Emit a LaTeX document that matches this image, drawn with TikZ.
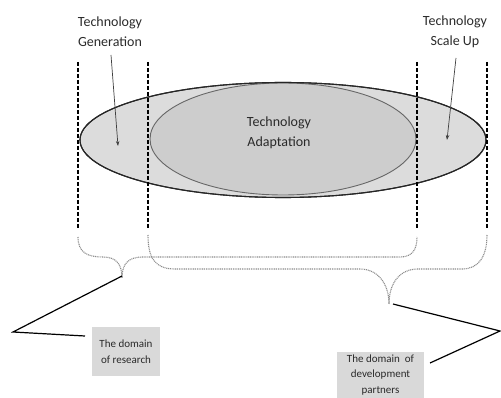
\documentclass[tikz,border=0pt]{standalone}
\usepackage{fontspec}
\setmainfont{Carlito}
\usetikzlibrary{shapes.geometric,arrows.meta}
\definecolor{outerfill}{HTML}{DCDCDC}
\definecolor{innerfill}{HTML}{CDCDCD}
\definecolor{boxfill}{HTML}{D9D9D9}
\definecolor{txt}{HTML}{2A2A2A}
\definecolor{bracegray}{HTML}{8C8C8C}
\tikzset{
  label/.style={text=txt, font=\fontsize{14}{20}\selectfont, align=center, inner sep=0pt},
  domainbox/.style={fill=boxfill, text=txt, font=\fontsize{11}{15.5}\selectfont, align=center, inner sep=0pt},
  boundary/.style={line width=1.3pt, dash pattern=on 4pt off 2pt},
  brace/.style={bracegray, line width=1.1pt, dash pattern=on 1pt off 0.8pt},
  pointer/.style={draw=black!75, line width=0.7pt, -{Stealth[length=5pt,width=3.5pt]}},
  callout/.style={line width=1.2pt, line join=miter}
}
\begin{document}
\begin{tikzpicture}[x=1pt,y=-1pt]
\useasboundingbox (0,0) rectangle (501,398);
\clip (0,0) rectangle (501,398);

% the two overlapping ellipses
\node[ellipse, draw=black!85, line width=1.1pt, fill=outerfill, minimum width=406pt, minimum height=115pt, inner sep=0pt] (outer) at (283,140) {};
\node[ellipse, draw=black!60, line width=0.9pt, fill=innerfill, minimum width=266pt, minimum height=112pt, inner sep=0pt] (inner) at (283,139) {};
\draw[black!85, line width=1.1pt] (outer.center) ellipse [x radius=203pt, y radius=57.5pt];

\node[label] (adapt) at (279,133) {Technology\\Adaptation};

% top labels and their pointers
\node[label] (gen) at (110,32) {Technology\\Generation};
\node[label] (scale) at (455,32) {Technology\\Scale Up};
\coordinate (genpt) at (118,146);
\coordinate (scalept) at (447,140);
\draw[pointer] (111,55) -- (genpt);
\draw[pointer] (456,58) -- (scalept);

% boundaries of the stages
\coordinate (b1top) at (78,62);   \coordinate (b1) at (78,228);
\coordinate (b2top) at (148,62);  \coordinate (b2) at (148,228);
\coordinate (b3top) at (417,62);  \coordinate (b3) at (417,228);
\coordinate (b4top) at (487,62);  \coordinate (b4) at (487,228);
\draw[boundary] (b1top) -- (b1);
\draw[boundary] (b2top) -- (b2);
\draw[boundary] (b3top) -- (b3);
\draw[boundary] (b4top) -- (b4);

% braces
\coordinate (tipA) at (122,278);
\coordinate (tipB) at (389,304);
\draw[brace] (78,237) .. controls (78,253) and (88,257) .. (103,257)
  .. controls (116,257) and (122,264) .. (tipA)
  .. controls (122,264) and (128,257) .. (143,257) -- (400,257)
  .. controls (412,257) and (417,250) .. (417,237);
\draw[brace] (148,235) .. controls (148,258) and (155,269) .. (175,269) -- (360,269)
  .. controls (378,269) and (389,284) .. (tipB)
  .. controls (389,284) and (399,269) .. (418,269) -- (462,269)
  .. controls (479,269) and (487,256) .. (487,235);

% domain boxes and callout lines
\node[domainbox, minimum width=68pt, minimum height=49pt] (research) at (126,351.5) {The domain\\of research};
\node[domainbox, minimum width=87pt, minimum height=46pt] (partners) at (380.5,375) {The domain~ of\\development\\partners};
\coordinate (kinkA) at (13,332);
\coordinate (kinkB) at (500,331);
\draw[callout] ([yshift=2pt]tipA) -- (kinkA) -- (85,336);
\draw[callout] ([xshift=4pt]tipB) -- (kinkB) -- (430,363);
\end{tikzpicture}
\end{document}
